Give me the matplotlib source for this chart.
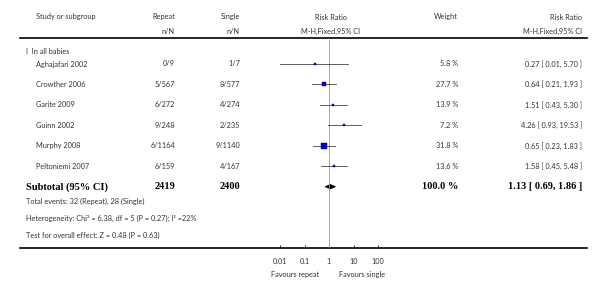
import matplotlib
matplotlib.use("Agg")
import matplotlib.pyplot as plt
from matplotlib.lines import Line2D
from matplotlib.patches import Polygon

# ---- data ----
studies = ["Aghajafari 2002", "Crowther 2006", "Garite 2009", "Guinn 2002",
           "Murphy 2008", "Peltoniemi 2007"]
repeat_nN = ["0/9", "5/567", "6/272", "9/248", "6/1164", "6/159"]
single_nN = ["1/7", "8/577", "4/274", "2/235", "9/1140", "4/167"]
weights = [5.8, 27.7, 13.9, 7.2, 31.8, 13.6]
rr = [0.27, 0.64, 1.51, 4.26, 0.65, 1.58]
rr_lo = [0.01, 0.21, 0.43, 0.93, 0.23, 0.45]
rr_hi = [5.70, 1.93, 5.30, 19.53, 1.83, 5.48]
subtotal_repeat = 2419
subtotal_single = 2400
subtotal_weight = 100.0
sub_rr, sub_lo, sub_hi = 1.13, 0.69, 1.86
xticks = [0.01, 0.1, 1, 10, 100]
xtick_labels = ["0.01", "0.1", "1", "10", "100"]
footnotes = ["Total events: 32 (Repeat), 28 (Single)",
             "Heterogeneity: Chi\u00b2 = 6.38, df = 5 (P = 0.27); I\u00b2 =22%",
             "Test for overall effect: Z = 0.48 (P = 0.63)"]

W, H = 600, 286
fig = plt.figure(figsize=(W / 100, H / 100), dpi=100)
bg = fig.add_axes([0, 0, 1, 1])
bg.set_xlim(0, W)
bg.set_ylim(H, 0)
bg.axis("off")

SANS = ["Lato", "DejaVu Sans"]
SERIF = ["Liberation Serif", "DejaVu Serif"]
FS = 5.3
GREY = "#444444"
kw = dict(fontsize=FS, family=SANS, color="#333333", va="center")

# header
bg.text(36, 17, "Study or subgroup", ha="left", **kw)
bg.text(175, 17, "Repeat", ha="right", **kw)
bg.text(175, 31, "n/N", ha="right", **kw)
bg.text(240, 17, "Single", ha="right", **kw)
bg.text(240, 31, "n/N", ha="right", **kw)
bg.text(331, 17, "Risk Ratio", ha="center", **kw)
bg.text(331, 31, "M-H,Fixed,95% CI", ha="center", **kw)
bg.text(458, 17, "Weight", ha="right", **kw)
bg.text(582, 17, "Risk Ratio", ha="right", **kw)
bg.text(582, 31, "M-H,Fixed,95% CI", ha="right", **kw)
bg.add_line(Line2D([20, 587], [38, 38], color="black", lw=1.2))

bg.text(26, 51, "I  In all babies", ha="left", **kw)

row0, dy = 64, 20.45
for i, s in enumerate(studies):
    y = row0 + dy * i
    bg.text(36, y, s, ha="left", **kw)
    bg.text(175, y, repeat_nN[i], ha="right", **kw)
    bg.text(240, y, single_nN[i], ha="right", **kw)
    bg.text(458, y, f"{weights[i]:.1f} %", ha="right", **kw)
    bg.text(582, y, f"{rr[i]:.2f} [ {rr_lo[i]:.2f}, {rr_hi[i]:.2f} ]", ha="right", **kw)

ys = row0 + dy * len(studies)
bkw = dict(fontsize=7.5, family=SERIF, weight="bold", color="black", va="center")
bg.text(26, ys, "Subtotal (95% CI)", ha="left", **bkw)
bg.text(175, ys, str(subtotal_repeat), ha="right", **bkw)
bg.text(240, ys, str(subtotal_single), ha="right", **bkw)
bg.text(458, ys, f"{subtotal_weight:.1f} %", ha="right", **bkw)
bg.text(582, ys, f"{sub_rr:.2f} [ {sub_lo:.2f}, {sub_hi:.2f} ]", ha="right", **bkw)

for j, t in enumerate(footnotes):
    bg.text(26, 201 + 17 * j, t, ha="left", **kw)

bg.add_line(Line2D([20, 587], [248, 248], color="black", lw=1.2))
bg.text(295, 274, "Favours repeat", ha="center", **kw)
bg.text(362, 274, "Favours single", ha="center", **kw)

# ---- forest axes ----
x1px = 329.0
dec = 24.5
ax_l, ax_r = x1px - 4 * dec, x1px + 4 * dec
ax_t, ax_b = 38, 248
ax = fig.add_axes([ax_l / W, 1 - ax_b / H, (ax_r - ax_l) / W, (ax_b - ax_t) / H])
ax.patch.set_alpha(0)
ax.set_xscale("log")
ax.set_xlim(1e-4, 1e4)
y_top = (ax_t - row0) / dy
y_bot = (ax_b - row0) / dy
ax.set_ylim(y_bot, y_top)
for sp in ax.spines.values():
    sp.set_visible(False)
ax.set_yticks([])
ax.set_xticks(xticks)
ax.set_xticklabels(xtick_labels)
ax.minorticks_off()
ax.tick_params(axis="x", direction="in", length=2.5, width=0.6, color="black",
               labelsize=FS, labelcolor="#333333", pad=7)
for lab in ax.get_xticklabels():
    lab.set_family(SANS)

ax.axvline(1, ymin=0, ymax=0.99, color="#999999", lw=0.6)

for i in range(len(studies)):
    ax.plot([rr_lo[i], rr_hi[i]], [i, i], color=GREY, lw=0.6)
    side_px = max(2.6, 0.16 * weights[i])
    ax.plot([rr[i]], [i], marker="s", ms=side_px * 0.72, color="#0000cc",
            mec="#000080", mew=0.3, ls="none")

yd = len(studies)
dh = 0.115
ax.add_patch(Polygon([[sub_lo, yd], [sub_rr, yd - dh], [sub_hi, yd], [sub_rr, yd + dh]],
                     closed=True, facecolor="black", edgecolor="black", lw=0.4))

fig.savefig("out.png", dpi=100)
